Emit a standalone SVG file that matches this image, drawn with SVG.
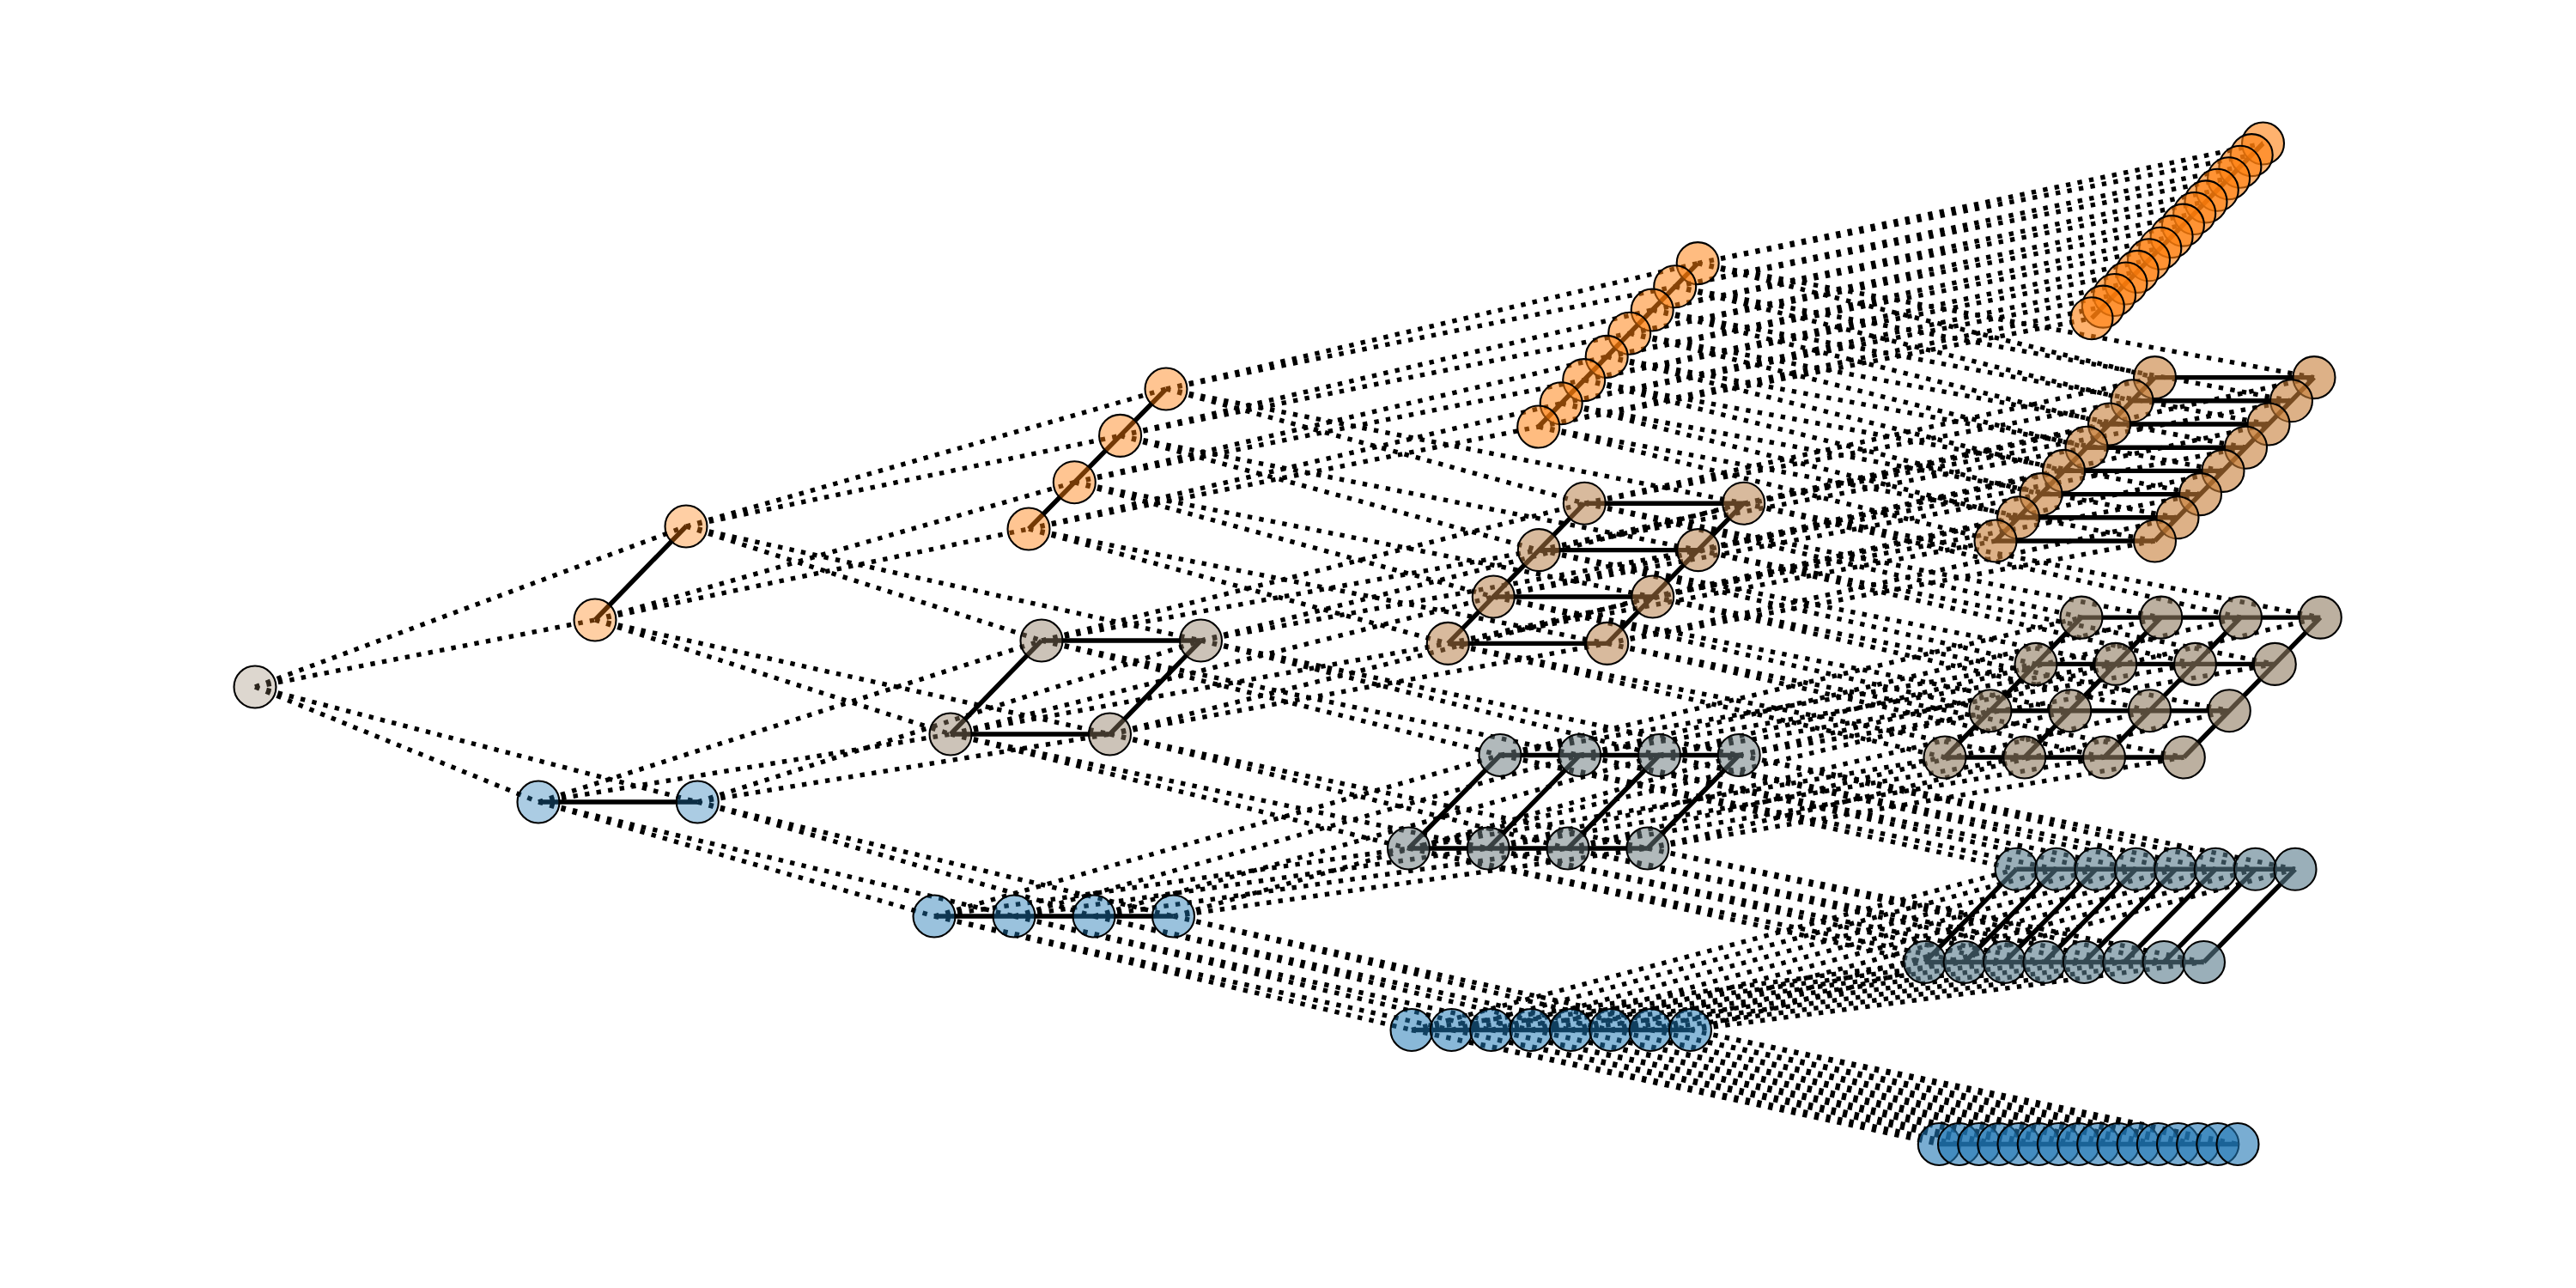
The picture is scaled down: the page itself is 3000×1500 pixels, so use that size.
<svg xmlns="http://www.w3.org/2000/svg" width="3000" height="1500" viewBox="0 0 3000 1500">
<style>
.d{fill:none;stroke:#000;stroke-width:5.4;stroke-dasharray:5.4 8.3}
.s{fill:none;stroke:#000;stroke-width:5.4}
circle{r:24.5px;stroke:#000;stroke-width:2.1}
.r{fill:rgb(143,123,97);fill-opacity:.3}
.b1{fill:rgb(31,119,180);fill-opacity:.375}.o1{fill:rgb(255,127,14);fill-opacity:.375}
.b2{fill:rgb(31,119,180);fill-opacity:.45}.m2{fill:rgb(143,123,97);fill-opacity:.45}.o2{fill:rgb(255,127,14);fill-opacity:.45}
.b3{fill:rgb(31,119,180);fill-opacity:.525}.g3{fill:rgb(106,122,125);fill-opacity:.525}.t3{fill:rgb(180,124,69);fill-opacity:.525}.o3{fill:rgb(255,127,14);fill-opacity:.525}
.b4{fill:rgb(31,119,180);fill-opacity:.6}.g4{fill:rgb(87,121,138);fill-opacity:.6}.m4{fill:rgb(143,123,97);fill-opacity:.6}.t4{fill:rgb(199,125,55);fill-opacity:.6}.o4{fill:rgb(255,127,14);fill-opacity:.6}
</style>
<g id="connectors">
<path class="d" d="M297 800L627 934M297 800L812.3 934M297 800L693 722M297 800L799 613"/>
<path class="d" d="M627 934L1088 1067M627 934L1181 1067M627 934L1107 855M627 934L1213 746"/>
<path class="d" d="M812.3 934L1274 1067M812.3 934L1366.5 1067M812.3 934L1292.5 855M812.3 934L1398.5 746"/>
<path class="d" d="M693 722L1107 855M693 722L1292.5 855M693 722L1198 616M693 722L1251.3 561.7"/>
<path class="d" d="M799 613L1213 746M799 613L1398.5 746M799 613L1304.6 507.4M799 613L1358 453"/>
<path class="d" d="M1088 1067L1644 1199.5M1088 1067L1690.4 1199.5M1088 1067L1640.5 988M1088 1067L1747 879.5"/>
<path class="d" d="M1181 1067L1736.7 1199.5M1181 1067L1783.1 1199.5M1181 1067L1733.2 988M1181 1067L1839.7 879.5"/>
<path class="d" d="M1274 1067L1829.4 1199.5M1274 1067L1875.8 1199.5M1274 1067L1826 988M1274 1067L1932.5 879.5"/>
<path class="d" d="M1366.5 1067L1922.1 1199.5M1366.5 1067L1968.5 1199.5M1366.5 1067L1918.8 988M1366.5 1067L2025.2 879.5"/>
<path class="d" d="M1107 855L1640.5 988M1107 855L1733.2 988M1107 855L1686.3 749.4M1107 855L1739.3 695"/>
<path class="d" d="M1292.5 855L1826 988M1292.5 855L1918.8 988M1292.5 855L1871.7 749.4M1292.5 855L1924.7 695"/>
<path class="d" d="M1213 746L1747 879.5M1213 746L1839.7 879.5M1213 746L1792.3 640.6M1213 746L1845.3 586.2"/>
<path class="d" d="M1398.5 746L1932.5 879.5M1398.5 746L2025.2 879.5M1398.5 746L1977.7 640.6M1398.5 746L2030.7 586.2"/>
<path class="d" d="M1198 616L1686.3 749.4M1198 616L1871.7 749.4M1198 616L1791.7 497M1198 616L1818.2 469.8"/>
<path class="d" d="M1251.3 561.7L1739.3 695M1251.3 561.7L1924.7 695M1251.3 561.7L1844.7 442.6M1251.3 561.7L1871.2 415.4"/>
<path class="d" d="M1304.6 507.4L1792.3 640.6M1304.6 507.4L1977.7 640.6M1304.6 507.4L1897.7 388.2M1304.6 507.4L1924.2 361"/>
<path class="d" d="M1358 453L1845.3 586.2M1358 453L2030.7 586.2M1358 453L1950.7 333.8M1358 453L1977.2 306.6"/>
<path class="d" d="M1644 1199.5L2258.3 1332.5M1644 1199.5L2281.5 1332.5M1644 1199.5L2241.7 1120.5M1644 1199.5L2348.2 1012.3"/>
<path class="d" d="M1690.4 1199.5L2304.7 1332.5M1690.4 1199.5L2327.8 1332.5M1690.4 1199.5L2288.1 1120.5M1690.4 1199.5L2394.6 1012.3"/>
<path class="d" d="M1736.7 1199.5L2351 1332.5M1736.7 1199.5L2374.2 1332.5M1736.7 1199.5L2334.5 1120.5M1736.7 1199.5L2441 1012.3"/>
<path class="d" d="M1783.1 1199.5L2397.4 1332.5M1783.1 1199.5L2420.6 1332.5M1783.1 1199.5L2380.9 1120.5M1783.1 1199.5L2487.4 1012.3"/>
<path class="d" d="M1829.4 1199.5L2443.7 1332.5M1829.4 1199.5L2466.9 1332.5M1829.4 1199.5L2427.3 1120.5M1829.4 1199.5L2533.8 1012.3"/>
<path class="d" d="M1875.8 1199.5L2490.1 1332.5M1875.8 1199.5L2513.3 1332.5M1875.8 1199.5L2473.7 1120.5M1875.8 1199.5L2580.2 1012.3"/>
<path class="d" d="M1922.1 1199.5L2536.5 1332.5M1922.1 1199.5L2559.6 1332.5M1922.1 1199.5L2520.1 1120.5M1922.1 1199.5L2626.6 1012.3"/>
<path class="d" d="M1968.5 1199.5L2582.8 1332.5M1968.5 1199.5L2606 1332.5M1968.5 1199.5L2566.5 1120.5M1968.5 1199.5L2673 1012.3"/>
<path class="d" d="M1640.5 988L2241.7 1120.5M1640.5 988L2288.1 1120.5M1640.5 988L2265 882M1640.5 988L2318 827.7"/>
<path class="d" d="M1733.2 988L2334.5 1120.5M1733.2 988L2380.9 1120.5M1733.2 988L2357.8 882M1733.2 988L2410.8 827.7"/>
<path class="d" d="M1826 988L2427.3 1120.5M1826 988L2473.7 1120.5M1826 988L2450.5 882M1826 988L2503.5 827.7"/>
<path class="d" d="M1918.8 988L2520.1 1120.5M1918.8 988L2566.5 1120.5M1918.8 988L2543.3 882M1918.8 988L2596.3 827.7"/>
<path class="d" d="M1747 879.5L2348.2 1012.3M1747 879.5L2394.6 1012.3M1747 879.5L2371 773.4M1747 879.5L2424 719.1"/>
<path class="d" d="M1839.7 879.5L2441 1012.3M1839.7 879.5L2487.4 1012.3M1839.7 879.5L2463.8 773.4M1839.7 879.5L2516.8 719.1"/>
<path class="d" d="M1932.5 879.5L2533.8 1012.3M1932.5 879.5L2580.2 1012.3M1932.5 879.5L2556.5 773.4M1932.5 879.5L2609.5 719.1"/>
<path class="d" d="M2025.2 879.5L2626.6 1012.3M2025.2 879.5L2673 1012.3M2025.2 879.5L2649.3 773.4M2025.2 879.5L2702.3 719.1"/>
<path class="d" d="M1686.3 749.4L2265 882M1686.3 749.4L2357.8 882M1686.3 749.4L2324 630M1686.3 749.4L2350.5 602.8"/>
<path class="d" d="M1871.7 749.4L2450.5 882M1871.7 749.4L2543.3 882M1871.7 749.4L2509.5 630M1871.7 749.4L2536 602.8"/>
<path class="d" d="M1739.3 695L2318 827.7M1739.3 695L2410.8 827.7M1739.3 695L2377 575.6M1739.3 695L2403.5 548.4"/>
<path class="d" d="M1924.7 695L2503.5 827.7M1924.7 695L2596.3 827.7M1924.7 695L2562.5 575.6M1924.7 695L2589 548.4"/>
<path class="d" d="M1792.3 640.6L2371 773.4M1792.3 640.6L2463.8 773.4M1792.3 640.6L2430 521.2M1792.3 640.6L2456.5 494"/>
<path class="d" d="M1977.7 640.6L2556.5 773.4M1977.7 640.6L2649.3 773.4M1977.7 640.6L2615.5 521.2M1977.7 640.6L2642 494"/>
<path class="d" d="M1845.3 586.2L2424 719.1M1845.3 586.2L2516.8 719.1M1845.3 586.2L2483 466.8M1845.3 586.2L2509.5 439.6"/>
<path class="d" d="M2030.7 586.2L2609.5 719.1M2030.7 586.2L2702.3 719.1M2030.7 586.2L2668.5 466.8M2030.7 586.2L2695 439.6"/>
<path class="d" d="M1791.7 497L2324 630M1791.7 497L2509.5 630M1791.7 497L2436 370.7M1791.7 497L2449.3 357.1"/>
<path class="d" d="M1818.2 469.8L2350.5 602.8M1818.2 469.8L2536 602.8M1818.2 469.8L2462.6 343.5M1818.2 469.8L2475.9 330"/>
<path class="d" d="M1844.7 442.6L2377 575.6M1844.7 442.6L2562.5 575.6M1844.7 442.6L2489.2 316.4M1844.7 442.6L2502.5 302.8"/>
<path class="d" d="M1871.2 415.4L2403.5 548.4M1871.2 415.4L2589 548.4M1871.2 415.4L2515.8 289.2M1871.2 415.4L2529.1 275.6"/>
<path class="d" d="M1897.7 388.2L2430 521.2M1897.7 388.2L2615.5 521.2M1897.7 388.2L2542.4 262.1M1897.7 388.2L2555.7 248.5"/>
<path class="d" d="M1924.2 361L2456.5 494M1924.2 361L2642 494M1924.2 361L2569 234.9M1924.2 361L2582.3 221.3"/>
<path class="d" d="M1950.7 333.8L2483 466.8M1950.7 333.8L2668.5 466.8M1950.7 333.8L2595.6 207.7M1950.7 333.8L2608.9 194.2"/>
<path class="d" d="M1977.2 306.6L2509.5 439.6M1977.2 306.6L2695 439.6M1977.2 306.6L2622.2 180.6M1977.2 306.6L2635.5 167"/>
<path class="s" d="M627 934H812.3M693 722L799 613"/>
<path class="s" d="M1088 1067H1366.5M1107 855H1292.5M1213 746H1398.5M1107 855L1213 746M1292.5 855L1398.5 746M1198 616L1358 453"/>
<path class="s" d="M1644 1199.5H1968.5M1640.5 988H1918.8M1747 879.5H2025.2M1640.5 988L1747 879.5M1733.2 988L1839.7 879.5M1826 988L1932.5 879.5M1918.8 988L2025.2 879.5"/>
<path class="s" d="M1686.3 749.4H1871.7M1739.3 695H1924.7M1792.3 640.6H1977.7M1845.3 586.2H2030.7M1686.3 749.4L1845.3 586.2M1871.7 749.4L2030.7 586.2M1791.7 497L1977.2 306.6"/>
<path class="s" d="M2258.3 1332.5H2606M2241.7 1120.5H2566.5M2348.2 1012.3H2673M2241.7 1120.5L2348.2 1012.3M2288.1 1120.5L2394.6 1012.3M2334.5 1120.5L2441 1012.3M2380.9 1120.5L2487.4 1012.3M2427.3 1120.5L2533.8 1012.3M2473.7 1120.5L2580.2 1012.3M2520.1 1120.5L2626.6 1012.3M2566.5 1120.5L2673 1012.3"/>
<path class="s" d="M2265 882H2543.3M2318 827.7H2596.3M2371 773.4H2649.3M2424 719.1H2702.3M2265 882L2424 719.1M2357.8 882L2516.8 719.1M2450.5 882L2609.5 719.1M2543.3 882L2702.3 719.1"/>
<path class="s" d="M2324 630H2509.5M2350.5 602.8H2536M2377 575.6H2562.5M2403.5 548.4H2589M2430 521.2H2615.5M2456.5 494H2642M2483 466.8H2668.5M2509.5 439.6H2695M2324 630L2509.5 439.6M2509.5 630L2695 439.6M2436 370.7L2635.5 167"/>
</g>
<g id="nodes">
<g id="n0"><circle class="r" cx="297" cy="800"/></g>
<g id="n1-b0"><circle class="b1" cx="627" cy="934"/></g>
<g id="n1-b1"><circle class="b1" cx="812.3" cy="934"/></g>
<g id="n1-o1"><circle class="o1" cx="799" cy="613"/></g>
<g id="n1-o0"><circle class="o1" cx="693" cy="722"/></g>
<g id="n2-b0"><circle class="b2" cx="1088" cy="1067"/></g>
<g id="n2-b1"><circle class="b2" cx="1181" cy="1067"/></g>
<g id="n2-b2"><circle class="b2" cx="1274" cy="1067"/></g>
<g id="n2-b3"><circle class="b2" cx="1366.5" cy="1067"/></g>
<g id="n2-m01"><circle class="m2" cx="1213" cy="746"/></g>
<g id="n2-m11"><circle class="m2" cx="1398.5" cy="746"/></g>
<g id="n2-m00"><circle class="m2" cx="1107" cy="855"/></g>
<g id="n2-m10"><circle class="m2" cx="1292.5" cy="855"/></g>
<g id="n2-o3"><circle class="o2" cx="1358" cy="453"/></g>
<g id="n2-o2"><circle class="o2" cx="1304.6" cy="507.4"/></g>
<g id="n2-o1"><circle class="o2" cx="1251.3" cy="561.7"/></g>
<g id="n2-o0"><circle class="o2" cx="1198" cy="616"/></g>
<g id="n3-b0"><circle class="b3" cx="1644" cy="1199.5"/></g>
<g id="n3-b1"><circle class="b3" cx="1690.4" cy="1199.5"/></g>
<g id="n3-b2"><circle class="b3" cx="1736.7" cy="1199.5"/></g>
<g id="n3-b3"><circle class="b3" cx="1783.1" cy="1199.5"/></g>
<g id="n3-b4"><circle class="b3" cx="1829.4" cy="1199.5"/></g>
<g id="n3-b5"><circle class="b3" cx="1875.8" cy="1199.5"/></g>
<g id="n3-b6"><circle class="b3" cx="1922.1" cy="1199.5"/></g>
<g id="n3-b7"><circle class="b3" cx="1968.5" cy="1199.5"/></g>
<g id="n3-g01"><circle class="g3" cx="1747" cy="879.5"/></g>
<g id="n3-g11"><circle class="g3" cx="1839.7" cy="879.5"/></g>
<g id="n3-g21"><circle class="g3" cx="1932.5" cy="879.5"/></g>
<g id="n3-g31"><circle class="g3" cx="2025.2" cy="879.5"/></g>
<g id="n3-g00"><circle class="g3" cx="1640.5" cy="988"/></g>
<g id="n3-g10"><circle class="g3" cx="1733.2" cy="988"/></g>
<g id="n3-g20"><circle class="g3" cx="1826" cy="988"/></g>
<g id="n3-g30"><circle class="g3" cx="1918.8" cy="988"/></g>
<g id="n3-t03"><circle class="t3" cx="1845.3" cy="586.2"/></g>
<g id="n3-t13"><circle class="t3" cx="2030.7" cy="586.2"/></g>
<g id="n3-t02"><circle class="t3" cx="1792.3" cy="640.6"/></g>
<g id="n3-t12"><circle class="t3" cx="1977.7" cy="640.6"/></g>
<g id="n3-t01"><circle class="t3" cx="1739.3" cy="695"/></g>
<g id="n3-t11"><circle class="t3" cx="1924.7" cy="695"/></g>
<g id="n3-t00"><circle class="t3" cx="1686.3" cy="749.4"/></g>
<g id="n3-t10"><circle class="t3" cx="1871.7" cy="749.4"/></g>
<g id="n3-o7"><circle class="o3" cx="1977.2" cy="306.6"/></g>
<g id="n3-o6"><circle class="o3" cx="1950.7" cy="333.8"/></g>
<g id="n3-o5"><circle class="o3" cx="1924.2" cy="361"/></g>
<g id="n3-o4"><circle class="o3" cx="1897.7" cy="388.2"/></g>
<g id="n3-o3"><circle class="o3" cx="1871.2" cy="415.4"/></g>
<g id="n3-o2"><circle class="o3" cx="1844.7" cy="442.6"/></g>
<g id="n3-o1"><circle class="o3" cx="1818.2" cy="469.8"/></g>
<g id="n3-o0"><circle class="o3" cx="1791.7" cy="497"/></g>
<g id="n4-b0"><circle class="b4" cx="2258.3" cy="1332.5"/></g>
<g id="n4-b1"><circle class="b4" cx="2281.5" cy="1332.5"/></g>
<g id="n4-b2"><circle class="b4" cx="2304.7" cy="1332.5"/></g>
<g id="n4-b3"><circle class="b4" cx="2327.8" cy="1332.5"/></g>
<g id="n4-b4"><circle class="b4" cx="2351" cy="1332.5"/></g>
<g id="n4-b5"><circle class="b4" cx="2374.2" cy="1332.5"/></g>
<g id="n4-b6"><circle class="b4" cx="2397.4" cy="1332.5"/></g>
<g id="n4-b7"><circle class="b4" cx="2420.6" cy="1332.5"/></g>
<g id="n4-b8"><circle class="b4" cx="2443.7" cy="1332.5"/></g>
<g id="n4-b9"><circle class="b4" cx="2466.9" cy="1332.5"/></g>
<g id="n4-b10"><circle class="b4" cx="2490.1" cy="1332.5"/></g>
<g id="n4-b11"><circle class="b4" cx="2513.3" cy="1332.5"/></g>
<g id="n4-b12"><circle class="b4" cx="2536.5" cy="1332.5"/></g>
<g id="n4-b13"><circle class="b4" cx="2559.6" cy="1332.5"/></g>
<g id="n4-b14"><circle class="b4" cx="2582.8" cy="1332.5"/></g>
<g id="n4-b15"><circle class="b4" cx="2606" cy="1332.5"/></g>
<g id="n4-g01"><circle class="g4" cx="2348.2" cy="1012.3"/></g>
<g id="n4-g11"><circle class="g4" cx="2394.6" cy="1012.3"/></g>
<g id="n4-g21"><circle class="g4" cx="2441" cy="1012.3"/></g>
<g id="n4-g31"><circle class="g4" cx="2487.4" cy="1012.3"/></g>
<g id="n4-g41"><circle class="g4" cx="2533.8" cy="1012.3"/></g>
<g id="n4-g51"><circle class="g4" cx="2580.2" cy="1012.3"/></g>
<g id="n4-g61"><circle class="g4" cx="2626.6" cy="1012.3"/></g>
<g id="n4-g71"><circle class="g4" cx="2673" cy="1012.3"/></g>
<g id="n4-g00"><circle class="g4" cx="2241.7" cy="1120.5"/></g>
<g id="n4-g10"><circle class="g4" cx="2288.1" cy="1120.5"/></g>
<g id="n4-g20"><circle class="g4" cx="2334.5" cy="1120.5"/></g>
<g id="n4-g30"><circle class="g4" cx="2380.9" cy="1120.5"/></g>
<g id="n4-g40"><circle class="g4" cx="2427.3" cy="1120.5"/></g>
<g id="n4-g50"><circle class="g4" cx="2473.7" cy="1120.5"/></g>
<g id="n4-g60"><circle class="g4" cx="2520.1" cy="1120.5"/></g>
<g id="n4-g70"><circle class="g4" cx="2566.5" cy="1120.5"/></g>
<g id="n4-m03"><circle class="m4" cx="2424" cy="719.1"/></g>
<g id="n4-m13"><circle class="m4" cx="2516.8" cy="719.1"/></g>
<g id="n4-m23"><circle class="m4" cx="2609.5" cy="719.1"/></g>
<g id="n4-m33"><circle class="m4" cx="2702.3" cy="719.1"/></g>
<g id="n4-m02"><circle class="m4" cx="2371" cy="773.4"/></g>
<g id="n4-m12"><circle class="m4" cx="2463.8" cy="773.4"/></g>
<g id="n4-m22"><circle class="m4" cx="2556.5" cy="773.4"/></g>
<g id="n4-m32"><circle class="m4" cx="2649.3" cy="773.4"/></g>
<g id="n4-m01"><circle class="m4" cx="2318" cy="827.7"/></g>
<g id="n4-m11"><circle class="m4" cx="2410.8" cy="827.7"/></g>
<g id="n4-m21"><circle class="m4" cx="2503.5" cy="827.7"/></g>
<g id="n4-m31"><circle class="m4" cx="2596.3" cy="827.7"/></g>
<g id="n4-m00"><circle class="m4" cx="2265" cy="882"/></g>
<g id="n4-m10"><circle class="m4" cx="2357.8" cy="882"/></g>
<g id="n4-m20"><circle class="m4" cx="2450.5" cy="882"/></g>
<g id="n4-m30"><circle class="m4" cx="2543.3" cy="882"/></g>
<g id="n4-t07"><circle class="t4" cx="2509.5" cy="439.6"/></g>
<g id="n4-t17"><circle class="t4" cx="2695" cy="439.6"/></g>
<g id="n4-t06"><circle class="t4" cx="2483" cy="466.8"/></g>
<g id="n4-t16"><circle class="t4" cx="2668.5" cy="466.8"/></g>
<g id="n4-t05"><circle class="t4" cx="2456.5" cy="494"/></g>
<g id="n4-t15"><circle class="t4" cx="2642" cy="494"/></g>
<g id="n4-t04"><circle class="t4" cx="2430" cy="521.2"/></g>
<g id="n4-t14"><circle class="t4" cx="2615.5" cy="521.2"/></g>
<g id="n4-t03"><circle class="t4" cx="2403.5" cy="548.4"/></g>
<g id="n4-t13"><circle class="t4" cx="2589" cy="548.4"/></g>
<g id="n4-t02"><circle class="t4" cx="2377" cy="575.6"/></g>
<g id="n4-t12"><circle class="t4" cx="2562.5" cy="575.6"/></g>
<g id="n4-t01"><circle class="t4" cx="2350.5" cy="602.8"/></g>
<g id="n4-t11"><circle class="t4" cx="2536" cy="602.8"/></g>
<g id="n4-t00"><circle class="t4" cx="2324" cy="630"/></g>
<g id="n4-t10"><circle class="t4" cx="2509.5" cy="630"/></g>
<g id="n4-o15"><circle class="o4" cx="2635.5" cy="167"/></g>
<g id="n4-o14"><circle class="o4" cx="2622.2" cy="180.6"/></g>
<g id="n4-o13"><circle class="o4" cx="2608.9" cy="194.2"/></g>
<g id="n4-o12"><circle class="o4" cx="2595.6" cy="207.7"/></g>
<g id="n4-o11"><circle class="o4" cx="2582.3" cy="221.3"/></g>
<g id="n4-o10"><circle class="o4" cx="2569" cy="234.9"/></g>
<g id="n4-o9"><circle class="o4" cx="2555.7" cy="248.5"/></g>
<g id="n4-o8"><circle class="o4" cx="2542.4" cy="262.1"/></g>
<g id="n4-o7"><circle class="o4" cx="2529.1" cy="275.6"/></g>
<g id="n4-o6"><circle class="o4" cx="2515.8" cy="289.2"/></g>
<g id="n4-o5"><circle class="o4" cx="2502.5" cy="302.8"/></g>
<g id="n4-o4"><circle class="o4" cx="2489.2" cy="316.4"/></g>
<g id="n4-o3"><circle class="o4" cx="2475.9" cy="330"/></g>
<g id="n4-o2"><circle class="o4" cx="2462.6" cy="343.5"/></g>
<g id="n4-o1"><circle class="o4" cx="2449.3" cy="357.1"/></g>
<g id="n4-o0"><circle class="o4" cx="2436" cy="370.7"/></g>
</g>
</svg>
